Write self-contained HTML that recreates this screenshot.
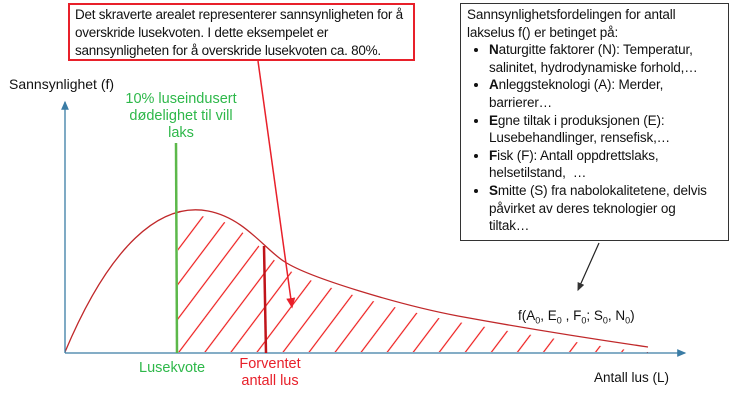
<!DOCTYPE html>
<html><head><meta charset="utf-8"><style>
body{margin:0;width:739px;height:403px;background:#fff;overflow:hidden;position:relative;font-family:"Liberation Sans",sans-serif;}
.t{position:absolute;white-space:nowrap;}
#c1{position:absolute;left:68px;top:3px;width:347px;height:58px;border:2px solid #e8202a;box-sizing:border-box;font-size:13.5px;line-height:18px;padding:1px 5px;color:#111;background:#fff;white-space:nowrap;letter-spacing:-0.25px}
#c2{position:absolute;left:460px;top:3px;width:269px;height:238px;border:1.5px solid #333;box-sizing:border-box;font-size:13.5px;line-height:17.6px;padding:2px 6px;color:#111;background:#fff;white-space:nowrap;letter-spacing:-0.15px}
#c2 ul{margin:0;padding:0 0 0 22px;}
#c2 li{margin:0}
</style></head><body>
<svg width="739" height="403" style="position:absolute;left:0;top:0">
<defs>
<pattern id="h" patternUnits="userSpaceOnUse" width="20.8" height="20" patternTransform="translate(177,353) rotate(37)">
<line x1="1" y1="0" x2="1" y2="20" stroke="#ee1c1c" stroke-width="1.2"/>
</pattern>
<clipPath id="cl"><rect x="178" y="0" width="470" height="353"/></clipPath>
<marker id="ar" markerWidth="8" markerHeight="8" refX="6" refY="4" orient="auto"><path d="M0,1 L7,4 L0,7 z" fill="#333"/></marker>
<marker id="ar2" markerWidth="8" markerHeight="8" refX="6" refY="4" orient="auto"><path d="M0,1 L7,4 L0,7 z" fill="#e8202a"/></marker>
<marker id="ax" markerWidth="8" markerHeight="8" refX="6" refY="4" orient="auto"><path d="M0,1 L7,4 L0,7 z" fill="#3a7ca5"/></marker>
</defs>
<path clip-path="url(#cl)" fill="url(#h)" d="M65,356 C110,250 160,208 208,217 C245,224 265,256 285,268 C310,284 400,311 458,322 C540,337 600,346 648,353 L648,352 L65,352 z"/>
<path d="M65,352 C110,245 160,202 208,211 C245,218 265,250 285,262 C310,278 400,305 458,316 C540,331 600,340 648,347" fill="none" stroke="#c0282a" stroke-width="1.3"/>
<line x1="65" y1="353" x2="65" y2="102" stroke="#3a7ca5" stroke-width="1.3" marker-end="url(#ax)"/>
<line x1="65" y1="353" x2="685" y2="353" stroke="#3a7ca5" stroke-width="1.3" marker-end="url(#ax)"/>
<line x1="176" y1="143" x2="177" y2="353" stroke="#5cb84a" stroke-width="2.5"/>
<line x1="264" y1="246" x2="266" y2="353" stroke="#c0141a" stroke-width="2.5"/>
<line x1="258" y1="61" x2="292" y2="307" stroke="#e8202a" stroke-width="1.5" marker-end="url(#ar2)"/>
<line x1="599" y1="243" x2="578" y2="290" stroke="#222" stroke-width="1.2" marker-end="url(#ar)"/>
</svg>
<div id="c1">Det skraverte arealet representerer sannsynligheten for å<br>overskride lusekvoten. I dette eksempelet er<br>sannsynligheten for å overskride lusekvoten ca. 80%.</div>
<div id="c2">Sannsynlighetsfordelingen for antall<br>lakselus f() er betinget på:
<ul>
<li><b>N</b>aturgitte faktorer (N): Temperatur,<br>salinitet, hydrodynamiske forhold,…</li>
<li><b>A</b>nleggsteknologi (A): Merder,<br>barrierer…</li>
<li><b>E</b>gne tiltak i produksjonen (E):<br>Lusebehandlinger, rensefisk,…</li>
<li><b>F</b>isk (F): Antall oppdrettslaks,<br>helsetilstand, &nbsp;…</li>
<li><b>S</b>mitte (S) fra nabolokalitetene, delvis<br>påvirket av deres teknologier og<br>tiltak…</li>
</ul></div>
<div class="t" style="left:9px;top:76px;font-size:14px;color:#111">Sannsynlighet (f)</div>
<div class="t" style="left:111px;top:91px;font-size:14.5px;line-height:17px;color:#2eb84a;text-align:center;width:140px">10% luseindusert<br>dødelighet til vill<br>laks</div>
<div class="t" style="left:139px;top:360px;font-size:14.5px;color:#2eb84a">Lusekvote</div>
<div class="t" style="left:234px;top:356px;font-size:14.5px;line-height:17px;color:#e8202a;text-align:center;width:72px">Forventet<br>antall lus</div>
<div class="t" style="left:594px;top:370px;font-size:13.5px;color:#111">Antall lus (L)</div>
<div class="t" style="left:518px;top:308px;font-size:13.5px;color:#111">f(A<sub style="font-size:9px">0</sub>, E<sub style="font-size:9px">0</sub> , F<sub style="font-size:9px">0</sub>; S<sub style="font-size:9px">0</sub>, N<sub style="font-size:9px">0</sub>)</div>
</body></html>
